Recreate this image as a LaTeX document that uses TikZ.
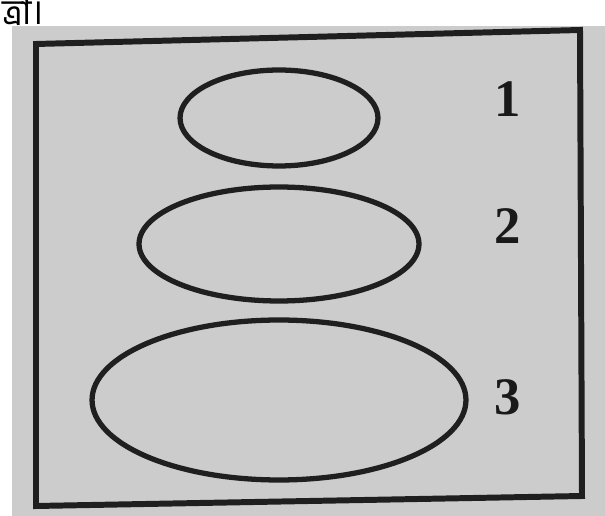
\documentclass[tikz,border=0pt]{standalone}
\usepackage{fontspec}
\setmainfont{Liberation Serif}
\newfontfamily\bengfont[Script=Bengali]{Hind Siliguri}
\usetikzlibrary{positioning, shapes.geometric}

\tikzset{
    ring/.style={draw=black!88, line width=3pt, ellipse, inner sep=0pt},
    tag/.style={font=\fontsize{30}{30}\selectfont\bfseries, text=black!90},
}

\begin{document}
\begin{tikzpicture}[x=0.02cm, y=-0.02cm]
    \useasboundingbox (0,0) rectangle (605,516);

    % shaded paper and caption fragment
    \fill[gray!40] (12,26) rectangle (605,516);
    \node[anchor=west, inner sep=1pt, font=\bengfont\fontsize{20}{20}\selectfont] (cap) at (0,12) {ত্রা।};

    % outer frame
    \draw[black!88, line width=3.4pt] (36,44) -- (580,30) -- (582,496) -- (36,506) -- cycle;

    % the three ovals
    \node[ring, minimum width=3.96cm, minimum height=1.92cm] (ovalA) at (279,118) {};
    \node[ring, minimum width=5.6cm, minimum height=2.28cm] (ovalB) at (279,244) {};
    \node[ring, minimum width=7.48cm, minimum height=3.2cm] (ovalC) at (279,400) {};

    % numbers
    \node[tag] (numA) at (508,99) {1};
    \node[tag] (numB) at (508,226) {2};
    \node[tag] (numC) at (508,397) {3};
\end{tikzpicture}
\end{document}
